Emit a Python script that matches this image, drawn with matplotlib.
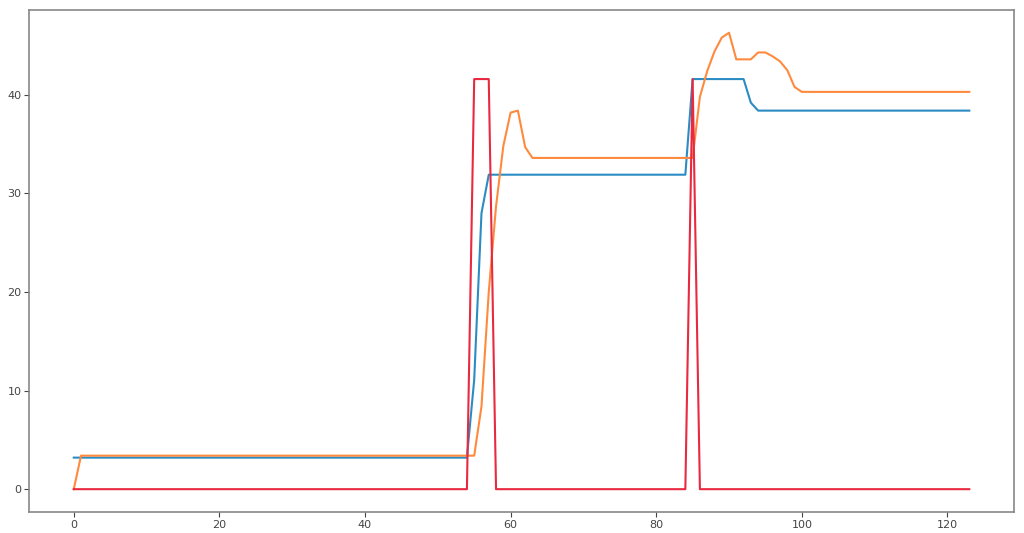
import matplotlib
matplotlib.use("Agg")
import matplotlib.pyplot as plt

x = list(range(124))

# Blue series
blue = ([3.2] * 55 + [11.1, 28.0] + [31.9] * 28 + [41.6] * 8 + [39.2] + [38.4] * 30)
# Orange series
orange = ([0.0] + [3.4] * 55 + [8.4, 20.0, 28.7, 34.8, 38.2, 38.4, 34.7] + [33.6] * 23
          + [39.8, 42.4, 44.4, 45.8, 46.3, 43.6, 43.6, 43.6, 44.3, 44.3, 43.9, 43.4, 42.5, 40.8]
          + [40.3] * 24)
# Red series
red = ([0.0] * 55 + [41.6] * 3 + [0.0] * 27 + [41.6] + [0.0] * 38)

fig = plt.figure(figsize=(10.24, 5.33), dpi=100)
ax = fig.add_axes([0.0283, 0.0394, 0.962, 0.942])
ax.plot(x, blue, color="#2b8cc4", lw=1.5)
ax.plot(x, orange, color="#ff8a3d", lw=1.5)
ax.plot(x, red, color="#e8293f", lw=1.5)
for s in ax.spines.values():
    s.set_color("#888888")
    s.set_linewidth(1.2)
ax.tick_params(colors="#444444", labelsize=8, length=3.5, pad=2, width=0.8)
fig.savefig("out.png", dpi=100)
